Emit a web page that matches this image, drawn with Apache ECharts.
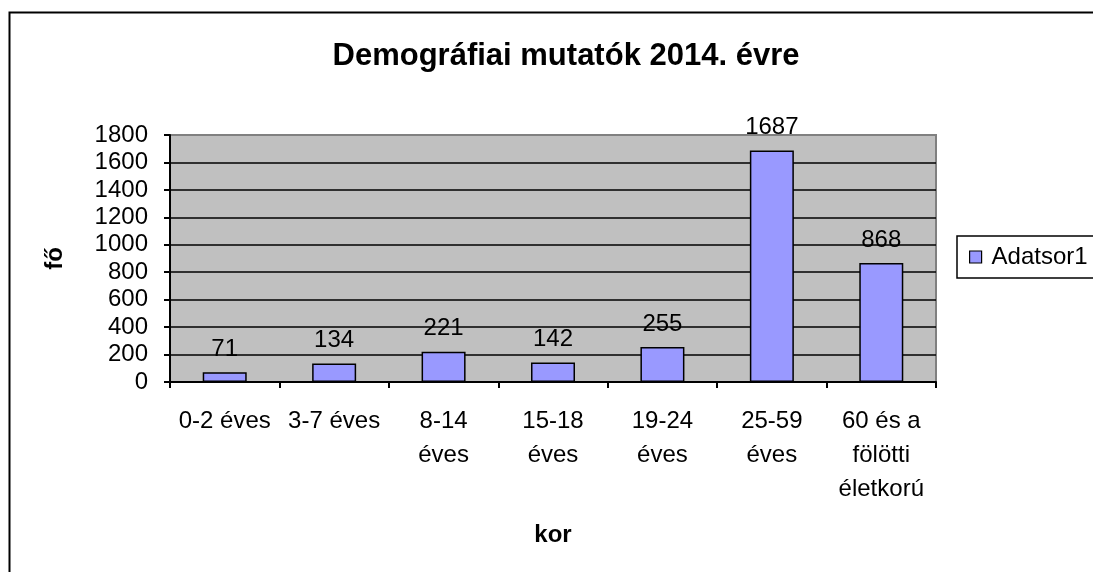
<!DOCTYPE html>
<html>
<head>
<meta charset="utf-8">
<script src="https://cdn.jsdelivr.net/npm/echarts@6/dist/echarts.min.js"></script>
<style>
html,body{margin:0;padding:0;background:#fff;}
#c{width:1093px;height:572px;}
</style>
</head>
<body>
<div id="c"></div>
<script>
const categories = ['0-2 éves', '3-7 éves', '8-14\néves', '15-18\néves', '19-24\néves', '25-59\néves', '60 és a\nfölötti\néletkorú'];
const seriesName = 'Adatsor1';
const values = [71, 134, 221, 142, 255, 1687, 868];
const titleText = 'Demográfiai mutatók 2014. évre';
const yName = 'fő';
const xName = 'kor';

const font = 'Arial, "Liberation Sans", sans-serif';
const chart = echarts.init(document.getElementById('c'));
chart.setOption({
  animation: false,
  backgroundColor: '#fff',
  textStyle: { fontFamily: font },
  title: {
    text: titleText,
    left: 561, top: 36, textAlign: 'center',
    textStyle: { fontFamily: font, fontSize: 31, fontWeight: 'bold', color: '#000' }
  },
  legend: {
    data: [seriesName],
    left: 957, top: 236,
    orient: 'vertical',
    borderColor: '#000', borderWidth: 1.5,
    padding: [9, 40, 9, 12],
    itemWidth: 12, itemHeight: 12,
    icon: 'rect',
    itemStyle: { borderColor: '#000', borderWidth: 1.2 },
    textStyle: { fontFamily: font, fontSize: 24, color: '#000', padding: [0, 0, 0, 5] }
  },
  graphic: [{
    type: 'rect', left: 7, top: 10, z: 100, silent: true,
    shape: { width: 1300, height: 800 },
    style: { fill: 'none', stroke: '#000', lineWidth: 2 }
  }],
  grid: {
    left: 170, top: 135, right: 157, bottom: 190,
    show: true, backgroundColor: '#C0C0C0', borderColor: '#808080', borderWidth: 2
  },
  xAxis: {
    type: 'category', data: categories,
    name: xName, nameLocation: 'middle', nameGap: 141,
    nameTextStyle: { fontFamily: font, fontSize: 24, fontWeight: 'bold', color: '#000' },
    axisLine: { lineStyle: { color: '#000', width: 2 } },
    axisTick: { show: true, length: 6, lineStyle: { color: '#000', width: 2 } },
    axisLabel: { fontFamily: font, fontSize: 24, color: '#000', lineHeight: 34, margin: 22, interval: 0 }
  },
  yAxis: {
    type: 'value', min: 0, max: 1800, interval: 200,
    name: yName, nameLocation: 'middle', nameGap: 103, nameRotate: 90,
    nameTextStyle: { fontFamily: font, fontSize: 24, fontWeight: 'bold', color: '#000' },
    axisLine: { show: true, lineStyle: { color: '#000', width: 2 } },
    axisTick: { show: true, length: 6, lineStyle: { color: '#000', width: 2 } },
    axisLabel: { fontFamily: font, fontSize: 24, color: '#000', margin: 22, formatter: v => String(v) },
    splitLine: { show: true, lineStyle: { color: ['#000','#000','#000','#000','#000','#000','#000','#000','#000','#808080'], width: 1.5 } }
  },
  series: [{
    name: seriesName, type: 'bar', data: values,
    barWidth: 44,
    itemStyle: { color: '#9999FF', borderColor: '#000', borderWidth: 1.5 },
    label: { show: true, position: 'top', distance: 11, fontFamily: font, fontSize: 24, color: '#000' }
  }]
});
</script>
</body>
</html>
